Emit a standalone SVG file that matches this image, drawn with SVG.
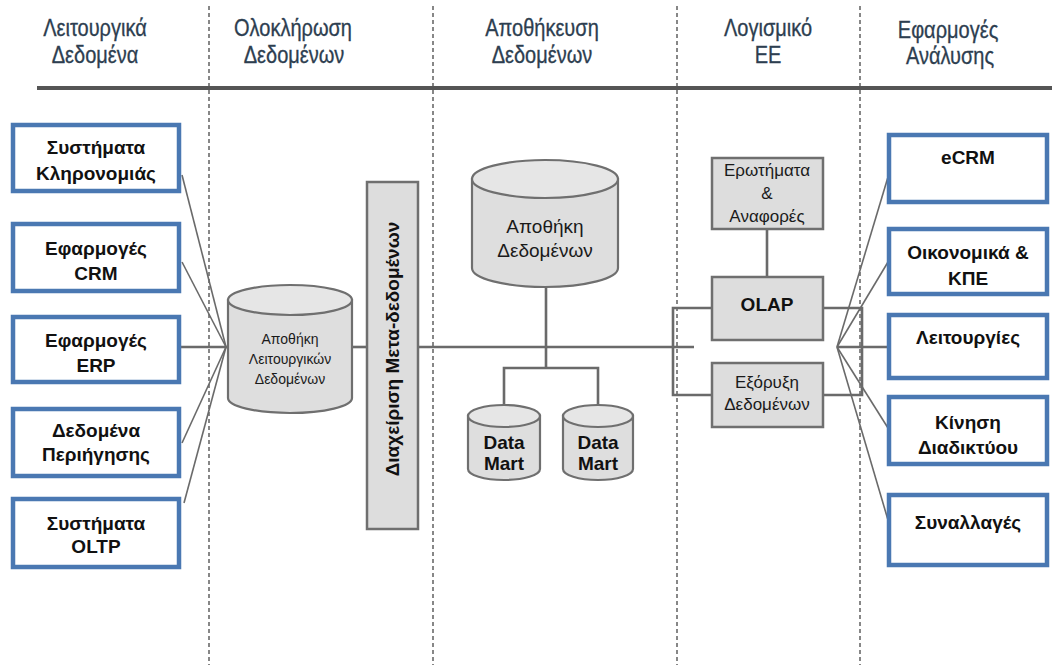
<svg xmlns="http://www.w3.org/2000/svg" width="1052" height="665" viewBox="0 0 1052 665">
  <style>
    .hdr { font-family: "Liberation Sans", Arial, sans-serif; font-size: 23px; fill: #2d3e50; stroke: #2d3e50; stroke-width: 0.3; text-anchor: middle; }
    .src { fill: #ffffff; stroke: #4a78b2; stroke-width: 4.5; }
    .lbl { font-family: "Liberation Sans", Arial, sans-serif; font-size: 19px; font-weight: bold; fill: #111; text-anchor: middle; }
    .reg { font-family: "Liberation Sans", Arial, sans-serif; font-weight: normal; fill: #1a1a1a; text-anchor: middle; }
    .gbox { fill: #dddddd; stroke: #6f6f6f; stroke-width: 2.5; }
    .cyl { fill: #dedede; stroke: #6f6f6f; stroke-width: 2.2; }
    .cyltop { fill: #e6e6e6; stroke: #6f6f6f; stroke-width: 2.2; }
    .sep { stroke: #6a6a6a; stroke-width: 1.6; stroke-dasharray: 4 3; fill: none; }
    .wire { stroke: #6a6a6a; stroke-width: 1.6; fill: none; }
    .bus { stroke: #6a6a6a; stroke-width: 2.6; fill: none; }
  </style>

  <rect width="1052" height="665" fill="#ffffff"/>

  <!-- column separators and header rule -->
  <g id="layout">
    <line class="sep" x1="209" y1="6" x2="209" y2="665"/>
    <line class="sep" x1="433" y1="6" x2="433" y2="665"/>
    <line class="sep" x1="677" y1="6" x2="677" y2="665"/>
    <line class="sep" x1="860" y1="6" x2="860" y2="665"/>
    <line x1="37" y1="88" x2="1052" y2="88" stroke="#555" stroke-width="4"/>
  </g>

  <!-- column headings (condensed horizontally) -->
  <g id="headings" transform="scale(0.87 1)">
    <text class="hdr" x="109.2" y="36">Λειτουργικά</text>
    <text class="hdr" x="109.2" y="63">Δεδομένα</text>
    <text class="hdr" x="336.8" y="36">Ολοκλήρωση</text>
    <text class="hdr" x="338" y="63">Δεδομένων</text>
    <text class="hdr" x="623" y="36">Αποθήκευση</text>
    <text class="hdr" x="623" y="63">Δεδομένων</text>
    <text class="hdr" x="882.8" y="36">Λογισμικό</text>
    <text class="hdr" x="882.8" y="63">ΕΕ</text>
    <text class="hdr" x="1089.7" y="38">Εφαρμογές</text>
    <text class="hdr" x="1092" y="64">Ανάλυσης</text>
  </g>

  <!-- connectors -->
  <g id="connectors">
    <!-- sources into the operational data store -->
    <line class="wire" x1="182" y1="175" x2="226" y2="347"/>
    <line class="wire" x1="182" y1="262" x2="226" y2="347"/>
    <line class="bus" x1="181" y1="347" x2="228" y2="347"/>
    <line class="wire" x1="182" y1="443" x2="226" y2="347"/>
    <line class="wire" x1="184" y1="503" x2="226" y2="347"/>
    <!-- main bus -->
    <line class="bus" x1="352" y1="347" x2="367" y2="347"/>
    <line class="bus" x1="418" y1="347" x2="694" y2="347"/>
    <!-- warehouse to data marts -->
    <line class="bus" x1="546" y1="287" x2="546" y2="368"/>
    <polyline class="bus" points="504,405 504,368 598,368 598,405"/>
    <!-- left bracket to OLAP / mining -->
    <polyline class="bus" points="712,308 673,308 673,395 712,395"/>
    <!-- reports to OLAP -->
    <line class="bus" x1="767" y1="229" x2="767" y2="277"/>
    <!-- right bracket -->
    <polyline class="bus" points="823,308 862,308 862,395 823,395"/>
    <!-- fan-out to analysis applications -->
    <line class="wire" x1="837" y1="347" x2="888" y2="177"/>
    <line class="wire" x1="837" y1="347" x2="888" y2="262"/>
    <line class="bus" x1="837" y1="347" x2="888" y2="347"/>
    <line class="wire" x1="837" y1="347" x2="888" y2="428"/>
    <line class="wire" x1="837" y1="347" x2="888" y2="520"/>
  </g>

  <!-- operational sources -->
  <g id="legacy">
    <rect class="src" x="13" y="125" width="166" height="66"/>
    <text class="lbl" x="96" y="154">Συστήματα</text>
    <text class="lbl" x="96" y="180">Κληρονομιάς</text>
  </g>
  <g id="crm">
    <rect class="src" x="13" y="224" width="166" height="67"/>
    <text class="lbl" x="96" y="255">Εφαρμογές</text>
    <text class="lbl" x="96" y="280">CRM</text>
  </g>
  <g id="erp">
    <rect class="src" x="13" y="317" width="166" height="65"/>
    <text class="lbl" x="96" y="347">Εφαρμογές</text>
    <text class="lbl" x="96" y="372">ERP</text>
  </g>
  <g id="clickstream">
    <rect class="src" x="13" y="409" width="166" height="67"/>
    <text class="lbl" x="96" y="437">Δεδομένα</text>
    <text class="lbl" x="96" y="461">Περιήγησης</text>
  </g>
  <g id="oltp">
    <rect class="src" x="13" y="499" width="166" height="68"/>
    <text class="lbl" x="96" y="530">Συστήματα</text>
    <text class="lbl" x="96" y="553">OLTP</text>
  </g>

  <!-- operational data store -->
  <g id="ods">
    <path class="cyl" d="M228,300 L228,398 A62,15 0 0 0 352,398 L352,300 Z"/>
    <ellipse class="cyltop" cx="290" cy="300" rx="62" ry="15"/>
    <text class="reg" x="290" y="344" font-size="14">Αποθήκη</text>
    <text class="reg" x="290" y="364" font-size="14">Λειτουργικών</text>
    <text class="reg" x="290" y="384" font-size="14">Δεδομένων</text>
  </g>

  <!-- metadata management bar -->
  <g id="metadata">
    <rect class="gbox" x="367" y="182" width="51" height="347"/>
    <text class="lbl" transform="translate(399,349) rotate(-90)" x="0" y="0">Διαχείριση Μετα-δεδομένων</text>
  </g>

  <!-- data warehouse -->
  <g id="warehouse">
    <path class="cyl" d="M472,179 L472,268 A73,19 0 0 0 618,268 L618,179 Z"/>
    <ellipse class="cyltop" cx="545" cy="179" rx="73" ry="19"/>
    <text class="reg" x="545" y="233" font-size="19">Αποθήκη</text>
    <text class="reg" x="545" y="257" font-size="19">Δεδομένων</text>
  </g>

  <g id="datamart1">
    <path class="cyl" d="M468,416 L468,469 A36,11 0 0 0 540,469 L540,416 Z"/>
    <ellipse class="cyltop" cx="504" cy="416" rx="36" ry="11"/>
    <text class="lbl" x="504" y="449">Data</text>
    <text class="lbl" x="504" y="470">Mart</text>
  </g>
  <g id="datamart2">
    <path class="cyl" d="M563,416 L563,469 A35,11 0 0 0 633,469 L633,416 Z"/>
    <ellipse class="cyltop" cx="598" cy="416" rx="35" ry="11"/>
    <text class="lbl" x="598" y="449">Data</text>
    <text class="lbl" x="598" y="470">Mart</text>
  </g>

  <!-- BI software -->
  <g id="reports">
    <rect class="gbox" x="712" y="158" width="111" height="71"/>
    <text class="reg" x="767" y="176" font-size="17">Ερωτήματα</text>
    <text class="reg" x="767" y="199" font-size="17">&amp;</text>
    <text class="reg" x="767" y="222" font-size="17">Αναφορές</text>
  </g>
  <g id="olap">
    <rect class="gbox" x="712" y="277" width="111" height="63"/>
    <text class="lbl" x="767" y="311" font-size="17">OLAP</text>
  </g>
  <g id="mining">
    <rect class="gbox" x="712" y="363" width="111" height="64"/>
    <text class="reg" x="767" y="388" font-size="17">Εξόρυξη</text>
    <text class="reg" x="767" y="410" font-size="17">Δεδομένων</text>
  </g>

  <!-- analysis applications -->
  <g id="ecrm">
    <rect class="src" x="889" y="135" width="158" height="67"/>
    <text class="lbl" x="968" y="164">eCRM</text>
  </g>
  <g id="finance">
    <rect class="src" x="889" y="229" width="158" height="65"/>
    <text class="lbl" x="968" y="259">Οικονομικά &amp;</text>
    <text class="lbl" x="968" y="285">ΚΠΕ</text>
  </g>
  <g id="operations">
    <rect class="src" x="889" y="315" width="158" height="63"/>
    <text class="lbl" x="968" y="344">Λειτουργίες</text>
  </g>
  <g id="webtraffic">
    <rect class="src" x="889" y="397" width="158" height="67"/>
    <text class="lbl" x="968" y="429">Κίνηση</text>
    <text class="lbl" x="968" y="454">Διαδικτύου</text>
  </g>
  <g id="transactions">
    <rect class="src" x="889" y="495" width="158" height="70"/>
    <text class="lbl" x="968" y="529">Συναλλαγές</text>
  </g>
</svg>
